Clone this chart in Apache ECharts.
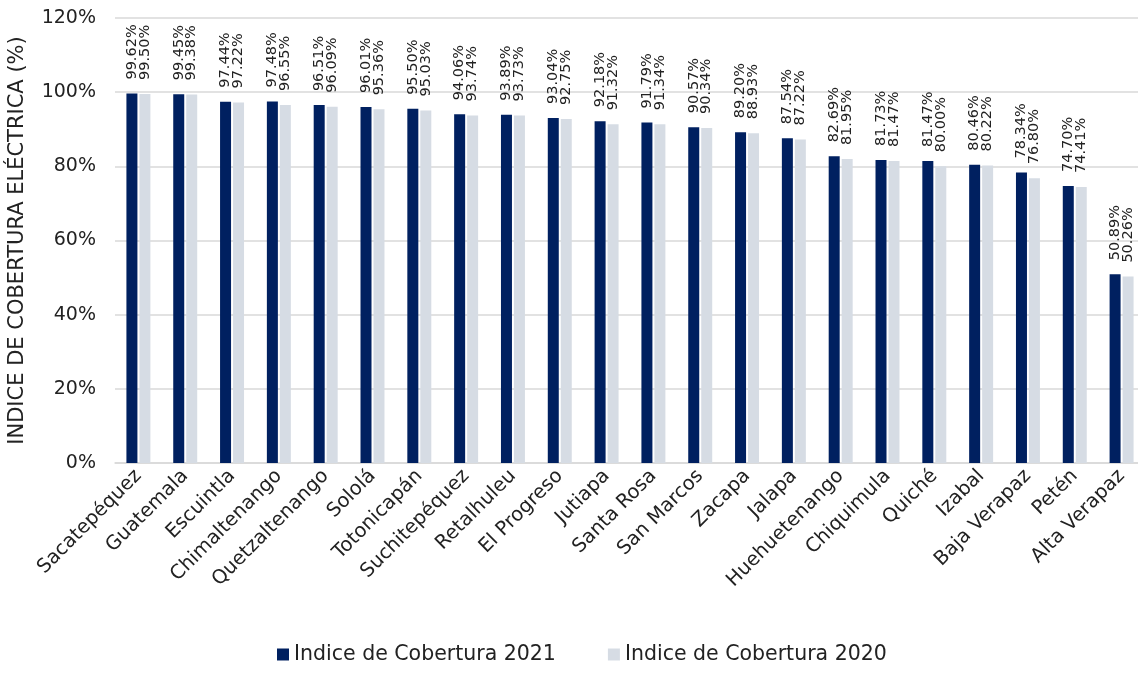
<!DOCTYPE html>
<html><head><meta charset="utf-8">
<script src="https://cdn.jsdelivr.net/npm/echarts@6/dist/echarts.min.js"></script>
<style>html,body{margin:0;padding:0;background:#fff}#c{width:1138px;height:673px}</style>
</head><body><div id="c"></div>
<script>
const categories = ["Sacatepéquez","Guatemala","Escuintla","Chimaltenango","Quetzaltenango","Sololá","Totonicapán","Suchitepéquez","Retalhuleu","El Progreso","Jutiapa","Santa Rosa","San Marcos","Zacapa","Jalapa","Huehuetenango","Chiquimula","Quiché","Izabal","Baja Verapaz","Petén","Alta Verapaz"];
const values2021 = [99.62,99.45,97.44,97.48,96.51,96.01,95.50,94.06,93.89,93.04,92.18,91.79,90.57,89.20,87.54,82.69,81.73,81.47,80.46,78.34,74.70,50.89];
const values2020 = [99.50,99.38,97.22,96.55,96.09,95.36,95.03,93.74,93.73,92.75,91.32,91.34,90.34,88.93,87.22,81.95,81.47,80.00,80.22,76.80,74.41,50.26];
const seriesNames = ["Indice de Cobertura 2021","Indice de Cobertura 2020"];
const yTicks = [0,20,40,60,80,100,120];

const FONT = '"DejaVu Sans", sans-serif';
const chart = echarts.init(document.getElementById('c'));
const lbl = {
  show: true, position: 'top', rotate: 90, align: 'left', verticalAlign: 'middle',
  distance: 14, fontFamily: FONT, fontSize: 14.5, color: '#222',
  formatter: p => p.value.toFixed(2) + '%'
};
chart.setOption({
  animation: false,
  textStyle: { fontFamily: FONT },
  grid: { left: 115, top: 18, width: 1030, height: 445, containLabel: false, outerBoundsMode: 'none' },
  legend: {
    bottom: 3, left: 272, itemWidth: 12, itemHeight: 12, itemGap: 52,
    icon: 'rect', textStyle: { fontSize: 20.5, color: '#222', fontFamily: FONT },
    data: seriesNames
  },
  xAxis: {
    type: 'category', data: categories,
    axisLine: { lineStyle: { color: '#d9d9d9', width: 1.5 } },
    axisTick: { show: false },
    axisLabel: { rotate: 45, interval: 0, fontSize: 19.5, color: '#222', fontFamily: FONT, margin: 10 }
  },
  yAxis: {
    type: 'value', min: 0, max: 120, interval: 20,
    name: 'INDICE DE COBERTURA ELÉCTRICA (%)', nameLocation: 'middle', nameGap: 87,
    nameTextStyle: { fontSize: 21, color: '#222', fontFamily: FONT },
    axisLabel: { formatter: v => yTicks.includes(v) ? v + '%' : '', fontSize: 19, color: '#222', margin: 19, fontFamily: FONT },
    splitLine: { lineStyle: { color: '#d9d9d9', width: 1.5 } },
    axisLine: { show: false }, axisTick: { show: false }
  },
  series: [
    { name: seriesNames[0], type: 'bar', data: values2021, barWidth: 11, barGap: '18%',
      itemStyle: { color: '#002060' }, label: lbl },
    { name: seriesNames[1], type: 'bar', data: values2020, barWidth: 11,
      itemStyle: { color: '#d6dce4' }, label: lbl }
  ]
});
</script></body></html>
